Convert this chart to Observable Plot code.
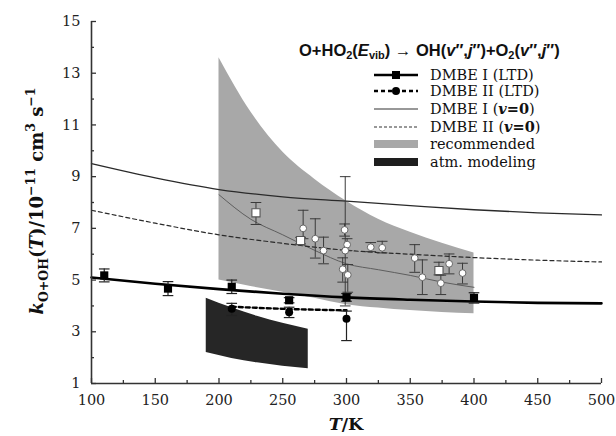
<!DOCTYPE html>
<html>
<head>
<meta charset="utf-8">
<script src="https://cdn.jsdelivr.net/npm/d3@7"></script>
<script src="https://cdn.jsdelivr.net/npm/@observablehq/plot@0.6"></script>
<style>
  body { margin: 0; background: #fff; }
  #chart { position: relative; width: 616px; height: 436px; }
  #legend { position: absolute; left: 0; top: 0; width: 616px; height: 436px; pointer-events: none; }
  .ttl { position: absolute; left: 299px; top: 41px; font: bold 16.5px "Liberation Sans", Arial, sans-serif; color: #111; white-space: nowrap; }
  .ttl sub { font-size: 11px; vertical-align: -3px; }
</style>
</head>
<body>
<div id="chart"></div>
<script>
// Temperature grid (K) for the model curves
const tGrid = [100, 150, 200, 250, 300, 350, 400, 450, 500];
// DMBE I and DMBE II, ground vibrational state (v=0)
const dmbe1V0 = [9.5, 8.95, 8.5, 8.22, 8.05, 7.88, 7.72, 7.6, 7.52];
const dmbe2V0 = [7.7, 7.2, 6.75, 6.42, 6.15, 6.0, 5.87, 5.77, 5.7];
// DMBE I (LTD) fitted curve
const dmbe1LtdFit = [5.1, 4.86, 4.65, 4.47, 4.33, 4.24, 4.17, 4.12, 4.1];

// DMBE I (LTD) computed points with error bars
const dmbe1LtdT = [110, 160, 210, 255, 300, 400];
const dmbe1LtdK = [5.18, 4.67, 4.74, 4.22, 4.33, 4.31];
const dmbe1LtdErr = [0.25, 0.27, 0.26, 0.1, 0.15, 0.2];

// DMBE II (LTD) computed points and connecting curve
const dmbe2LtdT = [210, 255, 300];
const dmbe2LtdK = [3.89, 3.76, 3.5];
const dmbe2LtdLo = [3.63, 3.55, 2.66];
const dmbe2LtdHi = [4.1, 3.95, 3.8];
const dmbe2LtdLineK = [3.97, 3.88, 3.83];

// Recommended band
const recT = [200, 225, 250, 275, 300, 325, 350, 375, 400];
const recHigh = [13.6, 11.5, 9.95, 8.9, 8.05, 7.35, 6.85, 6.42, 6.05];
const recLow = [5.0, 4.75, 4.53, 4.3, 4.05, 3.92, 3.82, 3.75, 3.7];
const recMid = [8.3, 7.35, 6.75, 6.15, 5.63, 5.4, 5.18, 4.92, 4.72];

// Atmospheric modeling band
const atmT = [190, 210, 230, 250, 270];
const atmHigh = [4.3, 3.93, 3.6, 3.33, 3.1];
const atmLow = [2.2, 1.97, 1.8, 1.67, 1.57];

// Experimental measurements
const expT =    [229, 264, 266, 275.5, 282, 298.5, 300.5, 299, 297, 301, 319, 328, 353.5, 359.5, 372.5, 374, 380.5, 391];
const expK =    [7.6, 6.53, 7.0, 6.6, 6.14, 6.94, 6.37, 6.14, 5.42, 5.2, 6.27, 6.25, 5.85, 5.11, 5.37, 4.88, 5.63, 5.27];
const expLo =   [7.15, 6.4, 6.6, 5.85, 5.63, 6.7, 6.14, 4.0, 4.92, 4.53, 6.1, 6.05, 5.3, 4.44, 5.2, 4.44, 5.24, 4.85];
const expHi =   [8.0, 6.65, 7.7, 7.37, 6.66, 7.17, 6.6, 9.0, 5.86, 5.6, 6.45, 6.5, 6.37, 5.78, 5.69, 5.19, 6.01, 5.65];
const expKind = ["sq", "sq", "ci", "ci", "ci", "ci", "ci", "ci", "ci", "ci", "ci", "ci", "ci", "ci", "sq", "ci", "ci", "ci"];

// Axis ticks
const xMajor = [100, 150, 200, 250, 300, 350, 400, 450, 500];
const xMinor = [125, 175, 225, 275, 325, 375, 425, 475];
const yMajor = [1, 3, 5, 7, 9, 11, 13, 15];
const yMinor = [2, 4, 6, 8, 10, 12, 14];

// Tables
const curves = tGrid.map((T, i) => ({T, a: dmbe1V0[i], b: dmbe2V0[i], c: dmbe1LtdFit[i]}));
const recBand = recT.map((T, i) => ({T, lo: recLow[i], hi: recHigh[i], mid: recMid[i]}));
const atmBand = atmT.map((T, i) => ({T, lo: atmLow[i], hi: atmHigh[i]}));
const ltd1 = dmbe1LtdT.map((T, i) => ({T, k: dmbe1LtdK[i], lo: dmbe1LtdK[i] - dmbe1LtdErr[i], hi: dmbe1LtdK[i] + dmbe1LtdErr[i]}));
const ltd2 = dmbe2LtdT.map((T, i) => ({T, k: dmbe2LtdK[i], lo: dmbe2LtdLo[i], hi: dmbe2LtdHi[i], line: dmbe2LtdLineK[i]}));
const expData = expT.map((T, i) => ({T, k: expK[i], lo: expLo[i], hi: expHi[i], kind: expKind[i]}));

// Horizontal stroke used as an error-bar cap
const capSymbol = {draw(ctx, size) { const w = Math.sqrt(size); ctx.moveTo(-w, 0); ctx.lineTo(w, 0); }};

const serif = "'DejaVu Serif', 'Liberation Serif', serif";
const axisColor = "#333";

const plot = Plot.plot({
  width: 616,
  height: 436,
  marginLeft: 91,
  marginRight: 15,
  marginTop: 21,
  marginBottom: 53,
  style: {fontFamily: serif, background: "#fff", color: "#222"},
  x: {domain: [100, 500]},
  y: {domain: [1, 15]},
  marks: [
    // bands
    Plot.areaY(recBand, {x: "T", y1: "lo", y2: "hi", fill: "#a8a8a8", curve: "monotone-x"}),
    Plot.areaY(atmBand, {x: "T", y1: "lo", y2: "hi", fill: "#262626", curve: "monotone-x"}),
    Plot.line(recBand, {x: "T", y: "mid", stroke: "#5e5e5e", strokeWidth: 1, curve: "monotone-x"}),
    // model curves, v=0
    Plot.line(curves, {x: "T", y: "a", stroke: "#2a2a2a", strokeWidth: 1.3, curve: "monotone-x"}),
    Plot.line(curves, {x: "T", y: "b", stroke: "#2a2a2a", strokeWidth: 1.2, strokeDasharray: "4,3", curve: "monotone-x"}),
    // LTD curves
    Plot.line(curves, {x: "T", y: "c", stroke: "#000", strokeWidth: 2.6, curve: "monotone-x"}),
    Plot.line(ltd2, {x: "T", y: "line", stroke: "#000", strokeWidth: 2.4, strokeDasharray: "4,3", curve: "monotone-x"}),
    // experimental error bars
    Plot.ruleX(expData, {x: "T", y1: "lo", y2: "hi", stroke: "#3a3a3a", strokeWidth: 1}),
    Plot.dot(expData, {x: "T", y: "lo", symbol: capSymbol, r: 3, stroke: "#3a3a3a", strokeWidth: 1}),
    Plot.dot(expData, {x: "T", y: "hi", symbol: capSymbol, r: 3, stroke: "#3a3a3a", strokeWidth: 1}),
    // LTD error bars
    Plot.ruleX(ltd1, {x: "T", y1: "lo", y2: "hi", stroke: "#222", strokeWidth: 1.2}),
    Plot.dot(ltd1, {x: "T", y: "lo", symbol: capSymbol, r: 3, stroke: "#222", strokeWidth: 1.2}),
    Plot.dot(ltd1, {x: "T", y: "hi", symbol: capSymbol, r: 3, stroke: "#222", strokeWidth: 1.2}),
    Plot.ruleX(ltd2, {x: "T", y1: "lo", y2: "hi", stroke: "#222", strokeWidth: 1.2}),
    Plot.dot(ltd2, {x: "T", y: "lo", symbol: capSymbol, r: 3, stroke: "#222", strokeWidth: 1.2}),
    Plot.dot(ltd2, {x: "T", y: "hi", symbol: capSymbol, r: 3, stroke: "#222", strokeWidth: 1.2}),
    // experimental markers
    Plot.dot(expData.filter(d => d.kind === "ci"), {x: "T", y: "k", r: 3.4, fill: "#fff", stroke: "#666", strokeWidth: 1}),
    Plot.dot(expData.filter(d => d.kind === "sq"), {x: "T", y: "k", symbol: "square", r: 4.6, fill: "#fff", stroke: "#555", strokeWidth: 1.1}),
    // LTD markers
    Plot.dot(ltd1, {x: "T", y: "k", symbol: "square", r: 4.6, fill: "#000"}),
    Plot.dot(ltd2, {x: "T", y: "k", r: 4, fill: "#000"}),
    // axis lines
    Plot.ruleY([1], {x1: 100, x2: 500, stroke: axisColor, strokeWidth: 1.6}),
    Plot.ruleX([100], {y1: 1, y2: 15, stroke: axisColor, strokeWidth: 1.6}),
    // tick marks pointing inward
    Plot.axisX({ticks: xMajor, tickSize: -5, tickFormat: () => "", label: null, stroke: axisColor, strokeWidth: 1.3}),
    Plot.axisX({ticks: xMinor, tickSize: -3, tickFormat: () => "", label: null, stroke: axisColor, strokeWidth: 1.3}),
    Plot.axisY({ticks: yMajor, tickSize: -5, tickFormat: () => "", label: null, stroke: axisColor, strokeWidth: 1.3}),
    Plot.axisY({ticks: yMinor, tickSize: -3, tickFormat: () => "", label: null, stroke: axisColor, strokeWidth: 1.3}),
    // tick labels
    Plot.axisX({ticks: xMajor, tickSize: 0, tickPadding: 11, label: null, fontSize: 14.5, fill: "#222"}),
    Plot.axisY({ticks: yMajor, tickSize: 0, tickPadding: 11, label: null, fontSize: 14.5, fill: "#222"})
  ]
});

const chart = document.getElementById("chart");
chart.appendChild(plot);

// Axis titles drawn into the SVG
const svg = d3.select(plot);
const ylab = svg.append("text")
  .attr("transform", "translate(43,201) rotate(-90)")
  .attr("text-anchor", "middle")
  .attr("font-family", serif)
  .attr("font-weight", "bold")
  .attr("font-size", 18)
  .attr("fill", "#111");
const parts = [
  ["k", "italic", 0], ["O+OH", "normal", 5, 12.5], ["(", "normal", -5], ["T", "italic", 0], [")/10", "normal", 0],
  ["−11", "normal", -8, 12.5], [" cm", "normal", 8], ["3", "normal", -8, 12.5], [" s", "normal", 8], ["−1", "normal", -8, 12.5]
];
for (const [t, style, dy, fs] of parts) {
  const ts = ylab.append("tspan").text(t).attr("font-style", style).attr("dy", dy);
  if (fs) ts.attr("font-size", fs);
}
const xlab = svg.append("text")
  .attr("x", 346).attr("y", 430)
  .attr("text-anchor", "middle")
  .attr("font-family", serif)
  .attr("font-weight", "bold")
  .attr("font-size", 17.5)
  .attr("fill", "#111");
xlab.append("tspan").text("T").attr("font-style", "italic");
xlab.append("tspan").text("/K");

// Legend overlay
const legend = d3.select(chart).append("div").attr("id", "legend");
legend.append("div").attr("class", "ttl")
  .html('O+HO<sub>2</sub>(<i>E</i><sub>vib</sub>) → OH(<i>v</i>″,<i>j</i>″)+O<sub>2</sub>(<i>v</i>″,<i>j</i>″)');

const lsvg = legend.append("svg").attr("width", 616).attr("height", 436)
  .style("position", "absolute").style("left", 0).style("top", 0);
const entries = [
  {label: [["DMBE I (LTD)", "normal", "normal"]], kind: "thick", marker: "square"},
  {label: [["DMBE II (LTD)", "normal", "normal"]], kind: "thickdash", marker: "circle"},
  {label: [["DMBE I (", "normal", "normal"], ["v", "italic", "bold"], ["=0", "normal", "bold"], [")", "normal", "normal"]], kind: "thin"},
  {label: [["DMBE II (", "normal", "normal"], ["v", "italic", "bold"], ["=0", "normal", "bold"], [")", "normal", "normal"]], kind: "thindash"},
  {label: [["recommended", "normal", "normal"]], kind: "grey"},
  {label: [["atm. modeling", "normal", "normal"]], kind: "black"}
];
const rowY = [75, 91, 109, 127, 144, 162];
const x0 = 374, x1 = 418, tx = 430;
entries.forEach((e, i) => {
  const y = rowY[i];
  const g = lsvg.append("g");
  if (e.kind === "thick" || e.kind === "thickdash") {
    g.append("line").attr("x1", x0).attr("x2", x1).attr("y1", y).attr("y2", y)
      .attr("stroke", "#000").attr("stroke-width", 2.4)
      .attr("stroke-dasharray", e.kind === "thickdash" ? "4,3" : null);
    if (e.marker === "square") g.append("rect").attr("x", 392).attr("y", y - 4).attr("width", 8).attr("height", 8).attr("fill", "#000");
    else g.append("circle").attr("cx", 396).attr("cy", y).attr("r", 4).attr("fill", "#000");
  } else if (e.kind === "thin" || e.kind === "thindash") {
    g.append("line").attr("x1", x0).attr("x2", x1).attr("y1", y).attr("y2", y)
      .attr("stroke", "#333").attr("stroke-width", 1.1)
      .attr("stroke-dasharray", e.kind === "thindash" ? "3,2" : null);
  } else {
    g.append("rect").attr("x", x0).attr("y", y - 4).attr("width", x1 - x0).attr("height", 8)
      .attr("fill", e.kind === "grey" ? "#a8a8a8" : "#1e1e1e");
  }
  const t = g.append("text").attr("x", tx).attr("y", y + 5)
    .attr("font-family", serif).attr("font-size", 14.5).attr("fill", "#111");
  for (const [s, st, w] of e.label) t.append("tspan").text(s).attr("font-style", st).attr("font-weight", w);
});
</script>
</body>
</html>
